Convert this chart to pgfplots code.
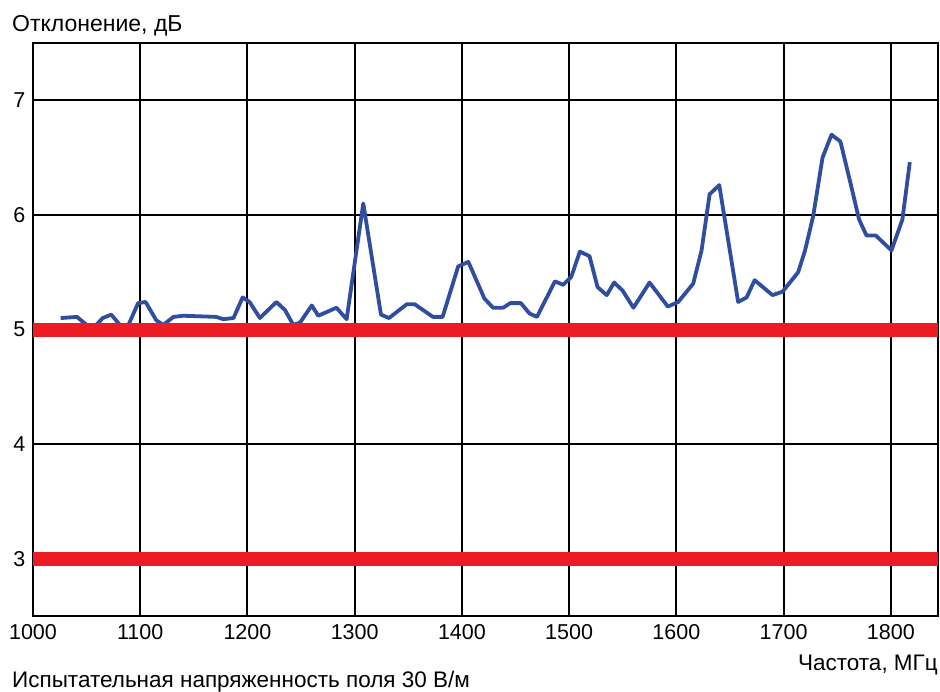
\documentclass[border=0pt]{standalone}
\usepackage{fontspec}
\setmainfont{Liberation Sans}
\usepackage{pgfplots}
\pgfplotsset{compat=1.18}
\definecolor{curveblue}{RGB}{48,78,160}
\definecolor{limred}{RGB}{237,28,36}
\begin{document}
\fontsize{22.5}{26}\selectfont
\begin{tikzpicture}
\begin{axis}[
  name=ax,
  scale only axis,
  width=905pt, height=573pt,
  xmin=1000, xmax=1844,
  ymin=2.5, ymax=7.5,
  xtick={1000,1100,...,1800},
  ytick={3,4,5,6,7},
  grid=major,
  major grid style={black, line width=2pt},
  axis line style={black, line width=2pt},
  major tick length=0pt,
  tick style={draw=none},
  /pgf/number format/assume math mode=true,
  /pgf/number format/1000 sep={},
  ticklabel style={font=\fontsize{21.5}{25}\selectfont},
  xticklabel style={yshift=-1pt},
  clip=true,
]
\addplot[curveblue, line width=3.8pt, line join=round] coordinates {
(1025.8,5.10) (1041,5.11) (1050,5.04) (1058,5.03) (1065,5.10) (1073,5.13)
(1081,5.04) (1089,5.04) (1098,5.23) (1105,5.24) (1115,5.08) (1121.5,5.04)
(1131,5.11) (1140,5.12) (1171,5.11) (1177.5,5.09) (1187,5.10) (1195.5,5.28)
(1202,5.24) (1211.6,5.10) (1227,5.24) (1235,5.17) (1242.7,5.04) (1249,5.06)
(1260,5.21) (1266,5.12) (1283,5.19) (1292.5,5.09) (1308,6.10) (1324.5,5.13)
(1332,5.10) (1348.5,5.22) (1356,5.22) (1373,5.11) (1382,5.11) (1396.5,5.55)
(1406,5.59) (1421,5.27) (1429,5.19) (1438.5,5.19) (1445,5.23) (1455,5.23)
(1463,5.14) (1470,5.11) (1486.7,5.42) (1494.5,5.39) (1502,5.46) (1510,5.68)
(1519,5.64) (1526.5,5.37) (1535,5.30) (1542,5.41) (1549.8,5.34) (1560,5.19)
(1575,5.41) (1592,5.20) (1601.7,5.24) (1615.7,5.40) (1623.5,5.69) (1631,6.18)
(1640,6.26) (1657.6,5.24) (1665.5,5.28) (1673,5.43) (1689.7,5.30) (1699,5.33)
(1713.6,5.50) (1720,5.69) (1727.6,5.99) (1736.3,6.50) (1744.7,6.70) (1753,6.64)
(1761.8,6.30) (1770.4,5.96) (1777.3,5.82) (1786,5.82) (1800.6,5.69) (1810.8,5.96)
(1817.7,6.46)
};
\addplot[limred, line width=14pt] coordinates {(1000,5) (1844,5)};
\addplot[limred, line width=14pt] coordinates {(1000,3) (1844,3)};
\end{axis}
\coordinate (O) at (ax.south west);
\node[anchor=base west, inner sep=0pt, font=\fontsize{23}{27}\selectfont] at ([shift={(-21pt,584pt)}]O) {Отклонение, дБ};
\node[anchor=base east, inner sep=0pt] at ([shift={(905pt,-54pt)}]O) {Частота, МГц};
\node[anchor=base west, inner sep=0pt] at ([shift={(-21pt,-71pt)}]O) {Испытательная напряженность поля 30 В/м};
\path[use as bounding box] ([shift={(-33pt,-74pt)}]O) rectangle ([shift={(907pt,616pt)}]O);
\end{tikzpicture}
\end{document}
